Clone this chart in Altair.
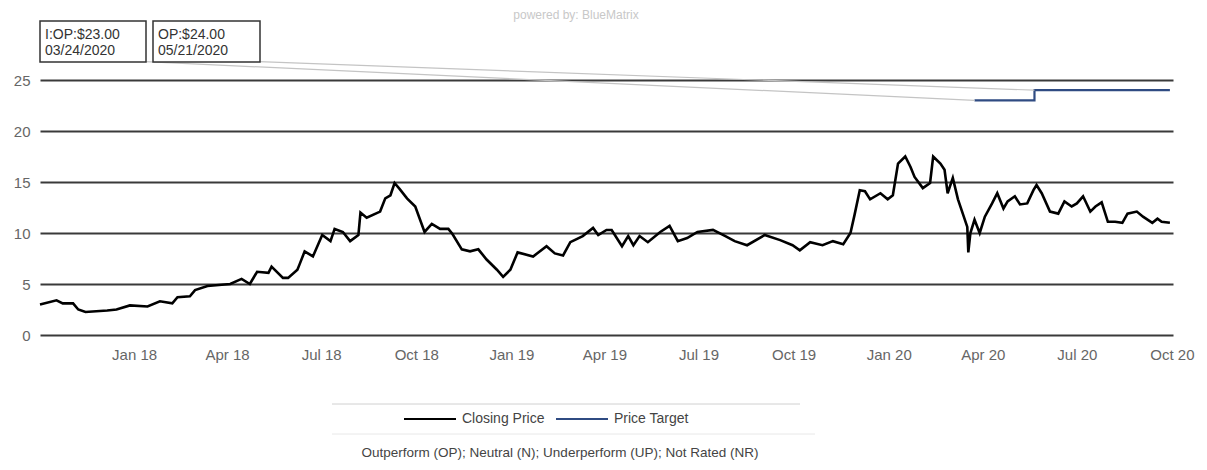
import altair as alt
import pandas as pd

# ---------------- data ----------------
close_dates = [
    "2017-10-02", "2017-10-18", "2017-10-24", "2017-11-03", "2017-11-08", "2017-11-15",
    "2017-12-06", "2017-12-15", "2017-12-28", "2018-01-14", "2018-01-26", "2018-02-07",
    "2018-02-12", "2018-02-24", "2018-03-01", "2018-03-13", "2018-04-04", "2018-04-15",
    "2018-04-23", "2018-04-30", "2018-05-11", "2018-05-14", "2018-05-25", "2018-05-30",
    "2018-06-08", "2018-06-10", "2018-06-15", "2018-06-23", "2018-07-02", "2018-07-10",
    "2018-07-14", "2018-07-22", "2018-07-29", "2018-08-06", "2018-08-08", "2018-08-14",
    "2018-08-27", "2018-09-01", "2018-09-06", "2018-09-10", "2018-09-15", "2018-09-22",
    "2018-09-30", "2018-10-09", "2018-10-16", "2018-10-24", "2018-11-01", "2018-11-05",
    "2018-11-14", "2018-11-22", "2018-11-30", "2018-12-08", "2018-12-18", "2018-12-24",
    "2018-12-31", "2019-01-07", "2019-01-22", "2019-02-04", "2019-02-12", "2019-02-20",
    "2019-02-27", "2019-03-11", "2019-03-21", "2019-03-26", "2019-04-03", "2019-04-08",
    "2019-04-18", "2019-04-24", "2019-04-29", "2019-05-05", "2019-05-13", "2019-05-25",
    "2019-06-03", "2019-06-11", "2019-06-20", "2019-06-30", "2019-07-15", "2019-07-27",
    "2019-08-05", "2019-08-17", "2019-09-03", "2019-09-18", "2019-09-30", "2019-10-07",
    "2019-10-17", "2019-10-29", "2019-11-08", "2019-11-18", "2019-11-25", "2019-11-29",
    "2019-12-04", "2019-12-09", "2019-12-14", "2019-12-24", "2019-12-31", "2020-01-05",
    "2020-01-10", "2020-01-17", "2020-01-22", "2020-01-26", "2020-02-03", "2020-02-10",
    "2020-02-13", "2020-02-20", "2020-02-24", "2020-02-27", "2020-03-03", "2020-03-08",
    "2020-03-17", "2020-03-18", "2020-03-20", "2020-03-24", "2020-03-29", "2020-04-03",
    "2020-04-10", "2020-04-15", "2020-04-21", "2020-04-25", "2020-05-02", "2020-05-07",
    "2020-05-14", "2020-05-20", "2020-05-23", "2020-05-28", "2020-06-05", "2020-06-13",
    "2020-06-19", "2020-06-26", "2020-07-01", "2020-07-07", "2020-07-14", "2020-07-19",
    "2020-07-25", "2020-07-31", "2020-08-07", "2020-08-14", "2020-08-19", "2020-08-28",
    "2020-09-03", "2020-09-12", "2020-09-17", "2020-09-21", "2020-09-29",
]
close_values = [
    3.0, 3.4, 3.1, 3.1, 2.5, 2.25,
    2.4, 2.5, 2.9, 2.8, 3.3, 3.1,
    3.7, 3.8, 4.4, 4.8, 5.0, 5.5,
    5.0, 6.2, 6.1, 6.7, 5.6, 5.6,
    6.4, 6.9, 8.2, 7.7, 9.8, 9.2,
    10.4, 10.1, 9.2, 9.8, 12.0, 11.5,
    12.1, 13.4, 13.7, 14.9, 14.3, 13.4,
    12.6, 10.1, 10.9, 10.4, 10.4, 9.9,
    8.4, 8.2, 8.4, 7.4, 6.4, 5.7,
    6.4, 8.1, 7.7, 8.7, 8.0, 7.8,
    9.1, 9.7, 10.5, 9.8, 10.3, 10.3,
    8.7, 9.7, 8.8, 9.7, 9.1, 10.1,
    10.7, 9.2, 9.5, 10.1, 10.3, 9.7,
    9.2, 8.8, 9.8, 9.3, 8.8, 8.3,
    9.1, 8.8, 9.2, 8.9, 10.0, 11.8,
    14.2, 14.1, 13.3, 13.9, 13.3, 13.7,
    16.8, 17.5, 16.5, 15.5, 14.4, 14.9,
    17.5, 16.8, 16.2, 13.9, 15.4, 13.3,
    10.6, 8.1, 10.0, 11.3, 10.0, 11.6,
    12.9, 13.9, 12.4, 13.1, 13.6, 12.8,
    12.9, 14.2, 14.7, 13.9, 12.1, 11.9,
    13.1, 12.6, 12.9, 13.6, 12.1, 12.6,
    13.0, 11.1, 11.1, 11.0, 11.9, 12.1,
    11.6, 11.0, 11.4, 11.1, 11.0,
]

target_dates = ["2020-03-24", "2020-05-21", "2020-09-29"]
target_values = [23.0, 24.0, 24.0]

rating_codes = ["I:OP:$23.00", "OP:$24.00"]
rating_dates = ["03/24/2020", "05/21/2020"]
leader_from_dates = ["2018-01-12", "2018-05-02"]
leader_from_values = [26.8, 26.8]
leader_to_dates = ["2020-03-24", "2020-05-21"]
leader_to_values = [23.0, 24.0]

y_ticks = [0, 5, 10, 15, 20, 25]
x_tick_dates = ["2018-01-01", "2018-04-01", "2018-07-01", "2018-10-01",
                "2019-01-01", "2019-04-01", "2019-07-01", "2019-10-01",
                "2020-01-01", "2020-04-01", "2020-07-01", "2020-10-01"]
x_domain = ["2017-10-02", "2020-10-02"]

legend_names = ["Closing Price", "Price Target"]
legend_colors = ["#000000", "#2f4b82"]
footnote = "Outperform (OP); Neutral (N); Underperform (UP); Not Rated (NR)"
credit = "powered by: BlueMatrix"

FONT = "Liberation Sans"


def dt(s):
    return alt.DateTime(year=int(s[:4]), month=int(s[5:7]), date=int(s[8:10]))


# ---------------- frames ----------------
price_df = pd.DataFrame({"date": pd.to_datetime(close_dates), "close": close_values})
target_df = pd.DataFrame({"date": pd.to_datetime(target_dates), "close": target_values})
leader_df = pd.DataFrame({
    "date": pd.to_datetime(leader_from_dates), "close": leader_from_values,
    "d1": pd.to_datetime(leader_to_dates), "v1": leader_to_values,
})

W, H = 1133, 255

x_scale = alt.Scale(domain=[dt(x_domain[0]), dt(x_domain[1])])
y_scale = alt.Scale(domain=[0, 25], nice=False)
x_axis = alt.Axis(values=[dt(s) for s in x_tick_dates], format="%b %y",
                  grid=False, ticks=False, domain=False, labelPadding=12,
                  labelFontSize=15, labelColor="#666666", labelFont=FONT)
y_axis = alt.Axis(values=y_ticks, grid=True, gridColor="#3a3a3a", gridWidth=1.8,
                  ticks=False, domain=False, labelPadding=10,
                  labelFontSize=15, labelColor="#666666", labelFont=FONT)
X = alt.X("date:T", scale=x_scale, title=None, axis=x_axis)
Y = alt.Y("close:Q", scale=y_scale, title=None, axis=y_axis)

price = alt.Chart(price_df).mark_line(color="#000000", strokeWidth=2.6).encode(x=X, y=Y)

target = alt.Chart(target_df).mark_line(color=legend_colors[1], strokeWidth=2.2,
                                        interpolate="step-after").encode(x=X, y=Y)

leaders = alt.Chart(leader_df).mark_rule(color="#c4c4c4", strokeWidth=1.2).encode(
    x=X, x2="d1:T", y=Y, y2="v1:Q")

# rating boxes (above the plot area)
box_left = [0, 113]
box_right = [106, 220]
layers = [price, target, leaders]
for i in range(len(rating_codes)):
    one = pd.DataFrame({"code": [rating_codes[i]], "when": [rating_dates[i]]})
    layers.append(alt.Chart(one).mark_rect(fill="white", stroke="#333333", strokeWidth=1.5).encode(
        x=alt.value(box_left[i]), x2=alt.value(box_right[i]),
        y=alt.value(-59), y2=alt.value(-18)))
    layers.append(alt.Chart(one).mark_text(align="left", baseline="alphabetic", fontSize=14,
                                           font=FONT, color="#333333").encode(
        x=alt.value(box_left[i] + 5), y=alt.value(-41), text="code:N"))
    layers.append(alt.Chart(one).mark_text(align="left", baseline="alphabetic", fontSize=14,
                                           font=FONT, color="#333333").encode(
        x=alt.value(box_left[i] + 5), y=alt.value(-25), text="when:N"))

credit_df = pd.DataFrame({"t": [credit]})
layers.append(alt.Chart(credit_df).mark_text(fontSize=12, font=FONT, color="#c8c8c8",
                                             baseline="middle").encode(
    x=alt.value(536), y=alt.value(-65), text="t:N"))

# legend block below the plot
sep_df = pd.DataFrame({"k": ["sep"]})
layers.append(alt.Chart(sep_df).mark_rule(color="#d0d0d0", strokeWidth=1).encode(
    x=alt.value(292), x2=alt.value(760), y=alt.value(324)))
layers.append(alt.Chart(sep_df).mark_rule(color="#e8e8e8", strokeWidth=1).encode(
    x=alt.value(292), x2=alt.value(775), y=alt.value(354)))

leg_x = [364, 516]
for i in range(len(legend_names)):
    one = pd.DataFrame({"name": [legend_names[i]]})
    layers.append(alt.Chart(one).mark_rule(color=legend_colors[i], strokeWidth=2).encode(
        x=alt.value(leg_x[i]), x2=alt.value(leg_x[i] + 52), y=alt.value(339)))
    layers.append(alt.Chart(one).mark_text(align="left", baseline="middle", fontSize=14,
                                           font=FONT, color="#444444").encode(
        x=alt.value(leg_x[i] + 58), y=alt.value(339), text="name:N"))

foot_df = pd.DataFrame({"t": [footnote]})
layers.append(alt.Chart(foot_df).mark_text(baseline="middle", fontSize=13.5, font=FONT,
                                           color="#444444").encode(
    x=alt.value(520), y=alt.value(373), text="t:N"))

chart = alt.layer(*layers).properties(
    width=W, height=H,
    padding={"left": 32, "top": 72, "right": 26, "bottom": 125},
    autosize=alt.AutoSizeParams(type="none"),
    background="white",
).configure_view(stroke=None)

chart.save("out.html", embed_options={"renderer": "svg", "actions": False})
